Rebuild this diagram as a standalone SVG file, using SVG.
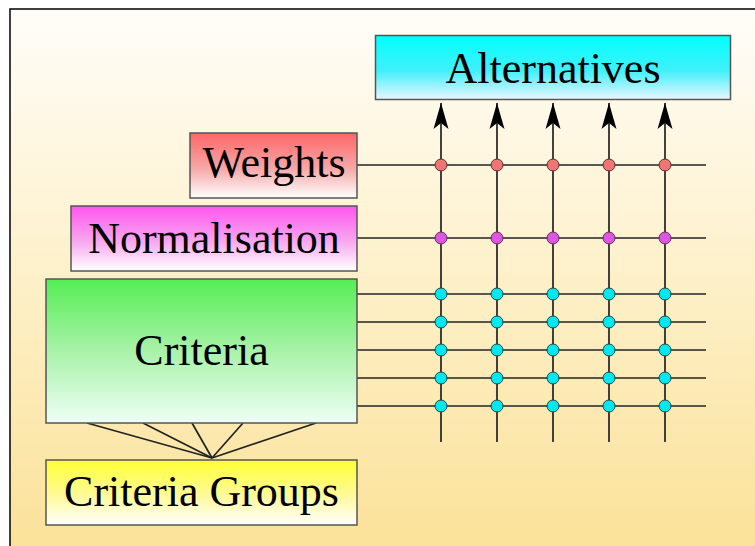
<svg xmlns="http://www.w3.org/2000/svg" width="755" height="546" viewBox="0 0 755 546">
<defs>
<linearGradient id="bg" x1="0" y1="0" x2="0" y2="1"><stop offset="0" stop-color="#fffdfa"/><stop offset="0.5" stop-color="#fdf0c8"/><stop offset="1" stop-color="#fbe197"/></linearGradient>
<linearGradient id="gAlt" x1="0" y1="0" x2="0" y2="1"><stop offset="0" stop-color="#00ffff"/><stop offset="0.55" stop-color="#40f0fa"/><stop offset="1" stop-color="#eaf6ff"/></linearGradient>
<linearGradient id="gW" x1="0" y1="0" x2="0" y2="1"><stop offset="0" stop-color="#ff6666"/><stop offset="0.55" stop-color="#f6a8a8"/><stop offset="1" stop-color="#ffffff"/></linearGradient>
<linearGradient id="gN" x1="0" y1="0" x2="0" y2="1"><stop offset="0" stop-color="#ff55ee"/><stop offset="0.55" stop-color="#f8a8f0"/><stop offset="1" stop-color="#ffffff"/></linearGradient>
<linearGradient id="gC" x1="0" y1="0" x2="0" y2="1"><stop offset="0" stop-color="#55ee55"/><stop offset="0.5" stop-color="#a8f2a8"/><stop offset="1" stop-color="#eefff6"/></linearGradient>
<linearGradient id="gG" x1="0" y1="0" x2="0" y2="1"><stop offset="0" stop-color="#ffff33"/><stop offset="0.55" stop-color="#fffa9a"/><stop offset="1" stop-color="#ffffff"/></linearGradient>
<marker id="arr" markerUnits="userSpaceOnUse" markerWidth="27" markerHeight="16" viewBox="0 0 27 16" refX="26" refY="8" orient="auto">
<path d="M0,0.5 L26,8 L0,15.5 L6,8 Z" fill="#000"/>
</marker>
<style>
.box{stroke:#555;stroke-width:1.5}
.lbl{font-family:"Liberation Serif","Times New Roman",serif;font-size:44px;fill:#000;text-anchor:middle}
.ln{stroke:#222;stroke-width:1.7;fill:none}
.dw{fill:#f07575;stroke:#553333;stroke-width:1}
.dn{fill:#e055e0;stroke:#553355;stroke-width:1}
.dc{fill:#00e8f0;stroke:#224444;stroke-width:1}
</style>
</defs>
<rect x="10" y="9" width="760" height="550" fill="url(#bg)" stroke="#000" stroke-width="1.5"/>
<g id="connectors">
<g class="ln" marker-end="url(#arr)">
<line x1="441" y1="442" x2="441" y2="103"/>
<line x1="497" y1="442" x2="497" y2="103"/>
<line x1="553" y1="442" x2="553" y2="103"/>
<line x1="609" y1="442" x2="609" y2="103"/>
<line x1="665" y1="442" x2="665" y2="103"/>
</g>
<g class="ln">
<line x1="357" y1="165" x2="706" y2="165"/>
<line x1="357" y1="238" x2="706" y2="238"/>
<line x1="357" y1="294" x2="706" y2="294"/>
<line x1="357" y1="322" x2="706" y2="322"/>
<line x1="357" y1="350" x2="706" y2="350"/>
<line x1="357" y1="378" x2="706" y2="378"/>
<line x1="357" y1="406" x2="706" y2="406"/>
<line x1="87" y1="423" x2="212" y2="458"/>
<line x1="143" y1="423" x2="212" y2="458"/>
<line x1="192" y1="423" x2="212" y2="458"/>
<line x1="243" y1="423" x2="212" y2="458"/>
<line x1="316" y1="423" x2="212" y2="458"/>
</g>
<g id="dots">
<circle class="dw" cx="441" cy="165" r="6"/><circle class="dw" cx="497" cy="165" r="6"/><circle class="dw" cx="553" cy="165" r="6"/><circle class="dw" cx="609" cy="165" r="6"/><circle class="dw" cx="665" cy="165" r="6"/>
<circle class="dn" cx="441" cy="238" r="6"/><circle class="dn" cx="497" cy="238" r="6"/><circle class="dn" cx="553" cy="238" r="6"/><circle class="dn" cx="609" cy="238" r="6"/><circle class="dn" cx="665" cy="238" r="6"/>
<circle class="dc" cx="441" cy="294" r="6"/><circle class="dc" cx="497" cy="294" r="6"/><circle class="dc" cx="553" cy="294" r="6"/><circle class="dc" cx="609" cy="294" r="6"/><circle class="dc" cx="665" cy="294" r="6"/>
<circle class="dc" cx="441" cy="322" r="6"/><circle class="dc" cx="497" cy="322" r="6"/><circle class="dc" cx="553" cy="322" r="6"/><circle class="dc" cx="609" cy="322" r="6"/><circle class="dc" cx="665" cy="322" r="6"/>
<circle class="dc" cx="441" cy="350" r="6"/><circle class="dc" cx="497" cy="350" r="6"/><circle class="dc" cx="553" cy="350" r="6"/><circle class="dc" cx="609" cy="350" r="6"/><circle class="dc" cx="665" cy="350" r="6"/>
<circle class="dc" cx="441" cy="378" r="6"/><circle class="dc" cx="497" cy="378" r="6"/><circle class="dc" cx="553" cy="378" r="6"/><circle class="dc" cx="609" cy="378" r="6"/><circle class="dc" cx="665" cy="378" r="6"/>
<circle class="dc" cx="441" cy="406" r="6"/><circle class="dc" cx="497" cy="406" r="6"/><circle class="dc" cx="553" cy="406" r="6"/><circle class="dc" cx="609" cy="406" r="6"/><circle class="dc" cx="665" cy="406" r="6"/>
</g>
</g>
<g id="alternatives"><rect class="box" x="375.5" y="35.5" width="355" height="64" fill="url(#gAlt)"/><text class="lbl" x="553" y="83">Alternatives</text></g>
<g id="weights"><rect class="box" x="190" y="133" width="167" height="65" fill="url(#gW)"/><text class="lbl" x="274" y="177">Weights</text></g>
<g id="normalisation"><rect class="box" x="71" y="206" width="286" height="65" fill="url(#gN)"/><text class="lbl" x="214" y="253">Normalisation</text></g>
<g id="criteria"><rect class="box" x="46" y="279" width="311" height="144" fill="url(#gC)"/><text class="lbl" x="201.5" y="365">Criteria</text></g>
<g id="criteria-groups"><rect class="box" x="46" y="460" width="311" height="65" fill="url(#gG)"/><text class="lbl" x="201.5" y="506">Criteria Groups</text></g>
</svg>
